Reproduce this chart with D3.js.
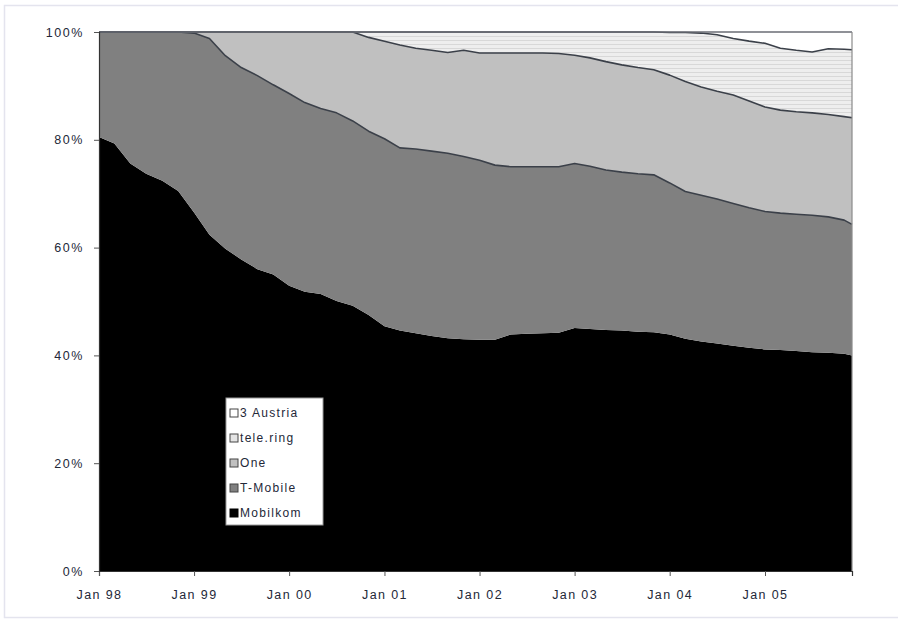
<!DOCTYPE html>
<html>
<head>
<meta charset="utf-8">
<script src="https://cdn.jsdelivr.net/npm/d3@7"></script>
<style>
  html, body { margin: 0; padding: 0; background: #ffffff; }
  svg { display: block; }
  text { font-family: Arial, "Liberation Sans", sans-serif; }
</style>
</head>
<body>
<svg id="chart" width="898" height="619"></svg>
<script>
// ---- data (market share, %, sampled every two months) ----
const months = [
  "1998-01","1998-03","1998-05","1998-07","1998-09","1998-11",
  "1999-01","1999-03","1999-05","1999-07","1999-09","1999-11",
  "2000-01","2000-03","2000-05","2000-07","2000-09","2000-11",
  "2001-01","2001-03","2001-05","2001-07","2001-09","2001-11",
  "2002-01","2002-03","2002-05","2002-07","2002-09","2002-11",
  "2003-01","2003-03","2003-05","2003-07","2003-09","2003-11",
  "2004-01","2004-03","2004-05","2004-07","2004-09","2004-11",
  "2005-01","2005-03","2005-05","2005-07","2005-09","2005-11","2005-12"
];
const seriesNames = ["Mobilkom", "T-Mobile", "One", "tele.ring", "3 Austria"];
const mobilkom = [
  80.5,79.3,75.6,73.7,72.4,70.5,
  66.5,62.4,59.8,57.8,56.0,55.0,
  52.9,51.8,51.4,50.1,49.2,47.5,
  45.4,44.6,44.1,43.6,43.2,43.0,
  42.9,42.9,43.9,44.0,44.1,44.2,
  45.1,44.9,44.7,44.6,44.4,44.3,
  43.9,43.1,42.6,42.2,41.8,41.4,
  41.1,41.0,40.8,40.6,40.5,40.3,40.0
];
const tmobile = [
  19.5,20.7,24.4,26.3,27.6,29.5,
  33.3,36.4,35.8,35.6,35.9,35.2,
  35.7,35.1,34.4,34.9,34.3,34.1,
  34.8,33.9,34.2,34.3,34.3,33.9,
  33.3,32.4,31.1,31.0,30.9,30.8,
  30.5,30.2,29.7,29.4,29.3,29.2,
  28.1,27.3,27.1,26.8,26.4,26.0,
  25.6,25.4,25.4,25.4,25.2,24.8,24.3
];
const one = [
  0,0,0,0,0,0,
  0.2,1.2,4.4,6.6,8.1,9.8,
  11.4,13.1,14.2,15.0,16.5,17.4,
  18.1,19.1,18.7,18.7,18.7,19.7,
  19.9,20.8,21.1,21.1,21.1,21.0,
  20.1,20.1,20.1,19.9,19.7,19.5,
  20.0,20.4,20.1,20.0,20.1,19.8,
  19.4,19.1,19.0,19.0,19.0,19.2,19.8
];
const telering = [
  0,0,0,0,0,0,
  0,0,0,0,0,0,
  0,0,0,0,0,1.0,
  1.7,2.4,3.0,3.4,3.8,3.4,
  3.9,3.9,3.9,3.9,3.9,4.0,
  4.3,4.8,5.5,6.1,6.6,7.0,
  7.9,9.1,10.0,10.5,10.5,11.1,
  11.8,11.5,11.4,11.3,12.2,12.5,12.6
];
const drei = [
  0,0,0,0,0,0,
  0,0,0,0,0,0,
  0,0,0,0,0,0,
  0,0,0,0,0,0,
  0,0,0,0,0,0,
  0,0,0,0,0,0,
  0.1,0.1,0.2,0.5,1.2,1.7,
  2.1,3.0,3.4,3.7,3.1,3.2,3.3
];
const xTickDates = ["1998-01","1999-01","2000-01","2001-01","2002-01","2003-01","2004-01","2005-01"];
const xTickLabels = ["Jan 98","Jan 99","Jan 00","Jan 01","Jan 02","Jan 03","Jan 04","Jan 05"];
const yTicks = [0, 20, 40, 60, 80, 100];
const yTickLabels = ["0%","20%","40%","60%","80%","100%"];

// ---- build table ----
const parse = d3.timeParse("%Y-%m");
const seriesValues = [mobilkom, tmobile, one, telering, drei];
const table = months.map((m, i) => {
  const row = { date: parse(m) };
  seriesNames.forEach((n, k) => row[n] = seriesValues[k][i]);
  return row;
});
const stacked = d3.stack().keys(seriesNames)(table);

// ---- layout ----
const svg = d3.select("#chart");
const L = 99, R = 852, T = 32, B = 571;
const x = d3.scaleTime().domain([parse("1998-01"), parse("2005-12")]).range([L, R]);
const y = d3.scaleLinear().domain([0, 100]).range([B, T]);
const textColor = "#232838";

// outer faint frame
svg.append("rect").attr("x", 4.5).attr("y", 5.5).attr("width", 900).attr("height", 612)
  .attr("fill", "none").attr("stroke", "#e4e4ee").attr("stroke-width", 1.5);

// pattern for tele.ring
const defs = svg.append("defs");
const pat = defs.append("pattern").attr("id", "stripes").attr("patternUnits", "userSpaceOnUse")
  .attr("width", 8).attr("height", 4);
pat.append("rect").attr("width", 8).attr("height", 4).attr("fill", "#eeeeee");
pat.append("rect").attr("y", 0).attr("width", 8).attr("height", 1).attr("fill", "#d8d8d8");

const fills = {
  "Mobilkom": "#000000",
  "T-Mobile": "#808080",
  "One": "#c0c0c0",
  "tele.ring": "url(#stripes)",
  "3 Austria": "#ffffff"
};

const area = d3.area()
  .x(d => x(d.data.date))
  .y0(d => y(d[0]))
  .y1(d => y(d[1]));

svg.append("g").selectAll("path").data(stacked).join("path")
  .attr("d", area)
  .attr("fill", d => fills[d.key]);

// boundary lines (top of T-Mobile, One, tele.ring)
const line = d3.line().x(d => x(d.data.date)).y(d => y(d[1]));
svg.append("g").selectAll("path")
  .data(stacked.filter(s => ["T-Mobile", "One", "tele.ring"].includes(s.key)))
  .join("path")
  .attr("d", line)
  .attr("fill", "none")
  .attr("stroke", "#3b4049")
  .attr("stroke-width", 1.6)
  .attr("stroke-linejoin", "round");

// plot border top/right
svg.append("line").attr("x1", L).attr("x2", R).attr("y1", T).attr("y2", T)
  .attr("stroke", "#6a6d74").attr("stroke-width", 1.5);
svg.append("line").attr("x1", R).attr("x2", R).attr("y1", T).attr("y2", B)
  .attr("stroke", "#8a8a8a").attr("stroke-width", 1.2);

// axes
const xAxis = d3.axisBottom(x)
  .tickValues(xTickDates.map(parse))
  .tickFormat((d, i) => xTickLabels[i])
  .tickSize(5).tickPadding(14);
const gx = svg.append("g").attr("transform", `translate(0,${B})`).call(xAxis);
gx.select(".domain").attr("stroke", "#333").attr("stroke-width", 1.2);
gx.selectAll(".tick line").attr("stroke", "#555");
gx.selectAll("text").attr("font-size", 12.5).attr("letter-spacing", "1.4px")
  .attr("fill", textColor);

const yAxis = d3.axisLeft(y)
  .tickValues(yTicks)
  .tickFormat((d, i) => yTickLabels[i])
  .tickSize(5).tickPadding(10);
const gy = svg.append("g").attr("transform", `translate(${L},0)`).call(yAxis);
gy.select(".domain").attr("stroke", "#333").attr("stroke-width", 1.2);
gy.selectAll(".tick line").attr("stroke", "#555");
gy.selectAll("text").attr("font-size", 12.5).attr("letter-spacing", "1.6px")
  .attr("fill", textColor);

// legend
const legendOrder = ["3 Austria", "tele.ring", "One", "T-Mobile", "Mobilkom"];
const lg = svg.append("g").attr("transform", "translate(226,398)");
lg.append("rect").attr("width", 97).attr("height", 127)
  .attr("fill", "#ffffff").attr("stroke", "#9a9a9a").attr("stroke-width", 1);
const items = lg.selectAll("g.item").data(legendOrder).join("g")
  .attr("class", "item")
  .attr("transform", (d, i) => `translate(4,${19 + i * 25})`);
items.append("rect").attr("x", 0).attr("y", -8).attr("width", 8).attr("height", 8)
  .attr("fill", d => d === "tele.ring" ? "#e4e4e4" : fills[d])
  .attr("stroke", d => d === "Mobilkom" ? "#000" : "#444").attr("stroke-width", 1);
items.append("text").attr("x", 10).attr("y", 0)
  .attr("font-size", 12).attr("letter-spacing", "1.3px").attr("fill", textColor)
  .text(d => d);
</script>
</body>
</html>
